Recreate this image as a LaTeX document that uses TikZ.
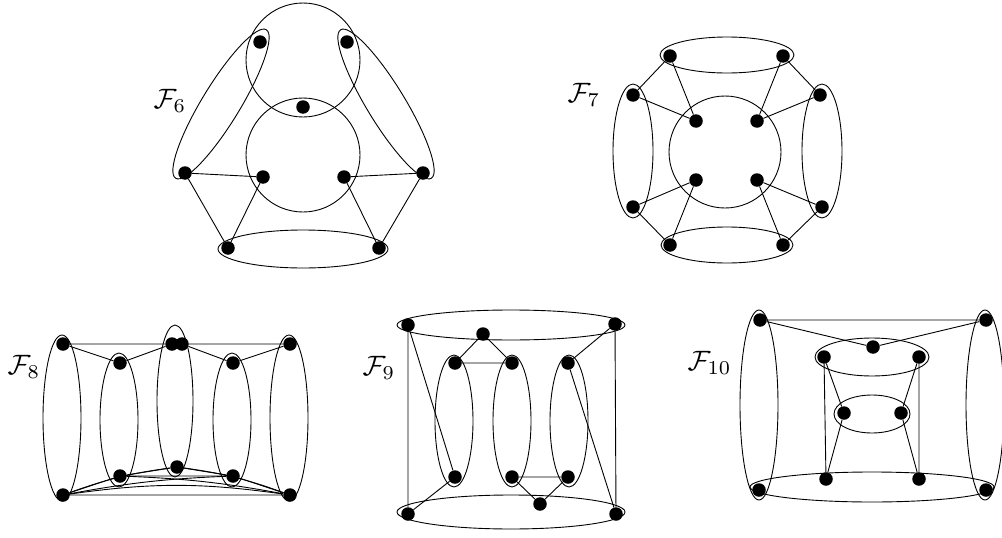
\documentclass[tikz,border=0pt]{standalone}
\begin{document}
\begin{tikzpicture}[x=1pt,y=-1pt,
  dot/.style={circle,fill=black,inner sep=0pt,minimum size=13.5pt},
  edge/.style={line width=0.9pt},
  hyper/.style={line width=0.9pt},
  lab/.style={anchor=west,inner sep=0pt,scale=2.8}]
\useasboundingbox (0,0) rectangle (1002,538);

% ===== F6 =====
\node[lab] (l6) at (153,101) {$\mathcal{F}_6$};
\draw[hyper] (303,60) circle [radius=57pt];
\draw[hyper] (303,155) circle [radius=57pt];
\draw[hyper] (303,249) ellipse [x radius=85pt, y radius=19pt];
\draw[hyper, rotate around={58.6:(221,104)}] (221,104) ellipse [x radius=87pt, y radius=19pt];
\draw[hyper, rotate around={-58.6:(386,104)}] (386,104) ellipse [x radius=87pt, y radius=19pt];
\node[dot] (a1) at (260,42) {};
\node[dot] (a2) at (347,42) {};
\node[dot] (a3) at (303,107) {};
\node[dot] (a4) at (185,173) {};
\node[dot] (a5) at (263,177) {};
\node[dot] (a6) at (344,177) {};
\node[dot] (a7) at (423,173) {};
\node[dot] (a8) at (228,248) {};
\node[dot] (a9) at (379,248) {};
\draw[edge] (a4) -- (a5) (a6) -- (a7) (a4) -- (a8) (a5) -- (a8) (a6) -- (a9) (a7) -- (a9);

% ===== F7 =====
\node[lab] (l7) at (567,95) {$\mathcal{F}_7$};
\draw[hyper] (727,55) ellipse [x radius=67pt, y radius=18pt];
\draw[hyper] (727,245) ellipse [x radius=66pt, y radius=18pt];
\draw[hyper] (633,151) ellipse [x radius=20pt, y radius=67pt];
\draw[hyper] (822,151) ellipse [x radius=20pt, y radius=67pt];
\draw[hyper] (725,152) circle [radius=56pt];
\node[dot] (b1) at (670,56) {};
\node[dot] (b2) at (783,56) {};
\node[dot] (b3) at (633,95) {};
\node[dot] (b4) at (820,95) {};
\node[dot] (b5) at (696,121) {};
\node[dot] (b6) at (757,121) {};
\node[dot] (b7) at (696,180) {};
\node[dot] (b8) at (757,180) {};
\node[dot] (b9) at (633,207) {};
\node[dot] (b10) at (822,207) {};
\node[dot] (b11) at (670,245) {};
\node[dot] (b12) at (783,245) {};
\draw[edge] (b1) -- (b3) (b1) -- (b5) (b3) -- (b5)
            (b2) -- (b4) (b2) -- (b6) (b4) -- (b6)
            (b9) -- (b7) (b11) -- (b7) (b9) -- (b11)
            (b10) -- (b8) (b12) -- (b8) (b10) -- (b12);

% ===== F8 =====
\node[lab] (l8) at (7,367) {$\mathcal{F}_8$};
\draw[hyper] (62,418) ellipse [x radius=19pt, y radius=83pt];
\draw[hyper] (119,420) ellipse [x radius=19pt, y radius=67pt];
\draw[hyper] (175,401) ellipse [x radius=18pt, y radius=76pt];
\draw[hyper] (232,420) ellipse [x radius=19pt, y radius=67pt];
\draw[hyper] (289,418) ellipse [x radius=19pt, y radius=83pt];
\node[dot] (c1) at (63,344) {};
\node[dot] (c2) at (120,363) {};
\node[dot] (c3) at (172,344) {};
\node[dot] (c4) at (182,344) {};
\node[dot] (c5) at (233,363) {};
\node[dot] (c6) at (290,344) {};
\node[dot] (d1) at (63,495) {};
\node[dot] (d2) at (120,476) {};
\node[dot] (d3) at (177,467) {};
\node[dot] (d4) at (233,476) {};
\node[dot] (d5) at (290,495) {};
\draw[edge] (c1) -- (c3) (c4) -- (c6) (c1) -- (c2) (c2) -- (c3) (c4) -- (c5) (c5) -- (c6);
\draw[edge] (d1) -- (d2) (d2) -- (d3) (d3) -- (d4) (d4) -- (d5) (d2) -- (d4) (d1) -- (d5);
\draw[edge] (d1) to[bend left=8] (d5);
\draw[edge] (d1) to[bend left=4] (d4);
\draw[edge] (d2) to[bend left=4] (d5);
\draw[edge] (d1) to[bend left=6] (d3);
\draw[edge] (d3) to[bend left=6] (d5);

% ===== F9 =====
\node[lab] (l9) at (362,368) {$\mathcal{F}_9$};
\draw[hyper] (511,325) ellipse [x radius=114pt, y radius=15pt];
\draw[hyper] (511,512) ellipse [x radius=114pt, y radius=17pt];
\draw[hyper] (454,421) ellipse [x radius=19pt, y radius=66pt];
\draw[hyper] (512,421) ellipse [x radius=19pt, y radius=66pt];
\draw[hyper] (569,421) ellipse [x radius=19pt, y radius=66pt];
\node[dot] (e1) at (408,325) {};
\node[dot] (e2) at (615,324) {};
\node[dot] (e3) at (483,334) {};
\node[dot] (e4) at (455,363) {};
\node[dot] (e5) at (512,363) {};
\node[dot] (e6) at (568,363) {};
\node[dot] (e7) at (455,477) {};
\node[dot] (e8) at (512,477) {};
\node[dot] (e9) at (568,477) {};
\node[dot] (e10) at (540,504) {};
\node[dot] (e11) at (408,514) {};
\node[dot] (e12) at (616,514) {};
\draw[edge] (e1) -- (e11) (e2) -- (e12) (e1) -- (e7) (e6) -- (e12)
            (e3) -- (e4) (e3) -- (e5) (e4) -- (e5) (e2) -- (e6)
            (e8) -- (e9) (e8) -- (e10) (e9) -- (e10) (e7) -- (e11);

% ===== F10 =====
\node[lab] (l10) at (687,363) {$\mathcal{F}_{10}$};
\draw[hyper] (759,405) ellipse [x radius=19pt, y radius=95pt];
\draw[hyper] (985,405) ellipse [x radius=19pt, y radius=95pt];
\draw[hyper] (872,357) ellipse [x radius=57pt, y radius=19pt];
\draw[hyper] (872,414) ellipse [x radius=38pt, y radius=19pt];
\draw[hyper] (872,487) ellipse [x radius=122pt, y radius=15pt];
\node[dot] (f1) at (760,320) {};
\node[dot] (f2) at (986,320) {};
\node[dot] (f3) at (873,347) {};
\node[dot] (f4) at (824,357) {};
\node[dot] (f5) at (919,357) {};
\node[dot] (f6) at (844,413) {};
\node[dot] (f7) at (901,413) {};
\node[dot] (f8) at (826,479) {};
\node[dot] (f9) at (919,479) {};
\node[dot] (f10) at (759,490) {};
\node[dot] (f11) at (986,490) {};
\draw[edge] (f1) -- (f2) (f1) -- (f3) (f2) -- (f3)
            (f4) -- (f8) (f5) -- (f9) (f4) -- (f6) (f5) -- (f7)
            (f6) -- (f8) (f7) -- (f9);
\end{tikzpicture}
\end{document}
